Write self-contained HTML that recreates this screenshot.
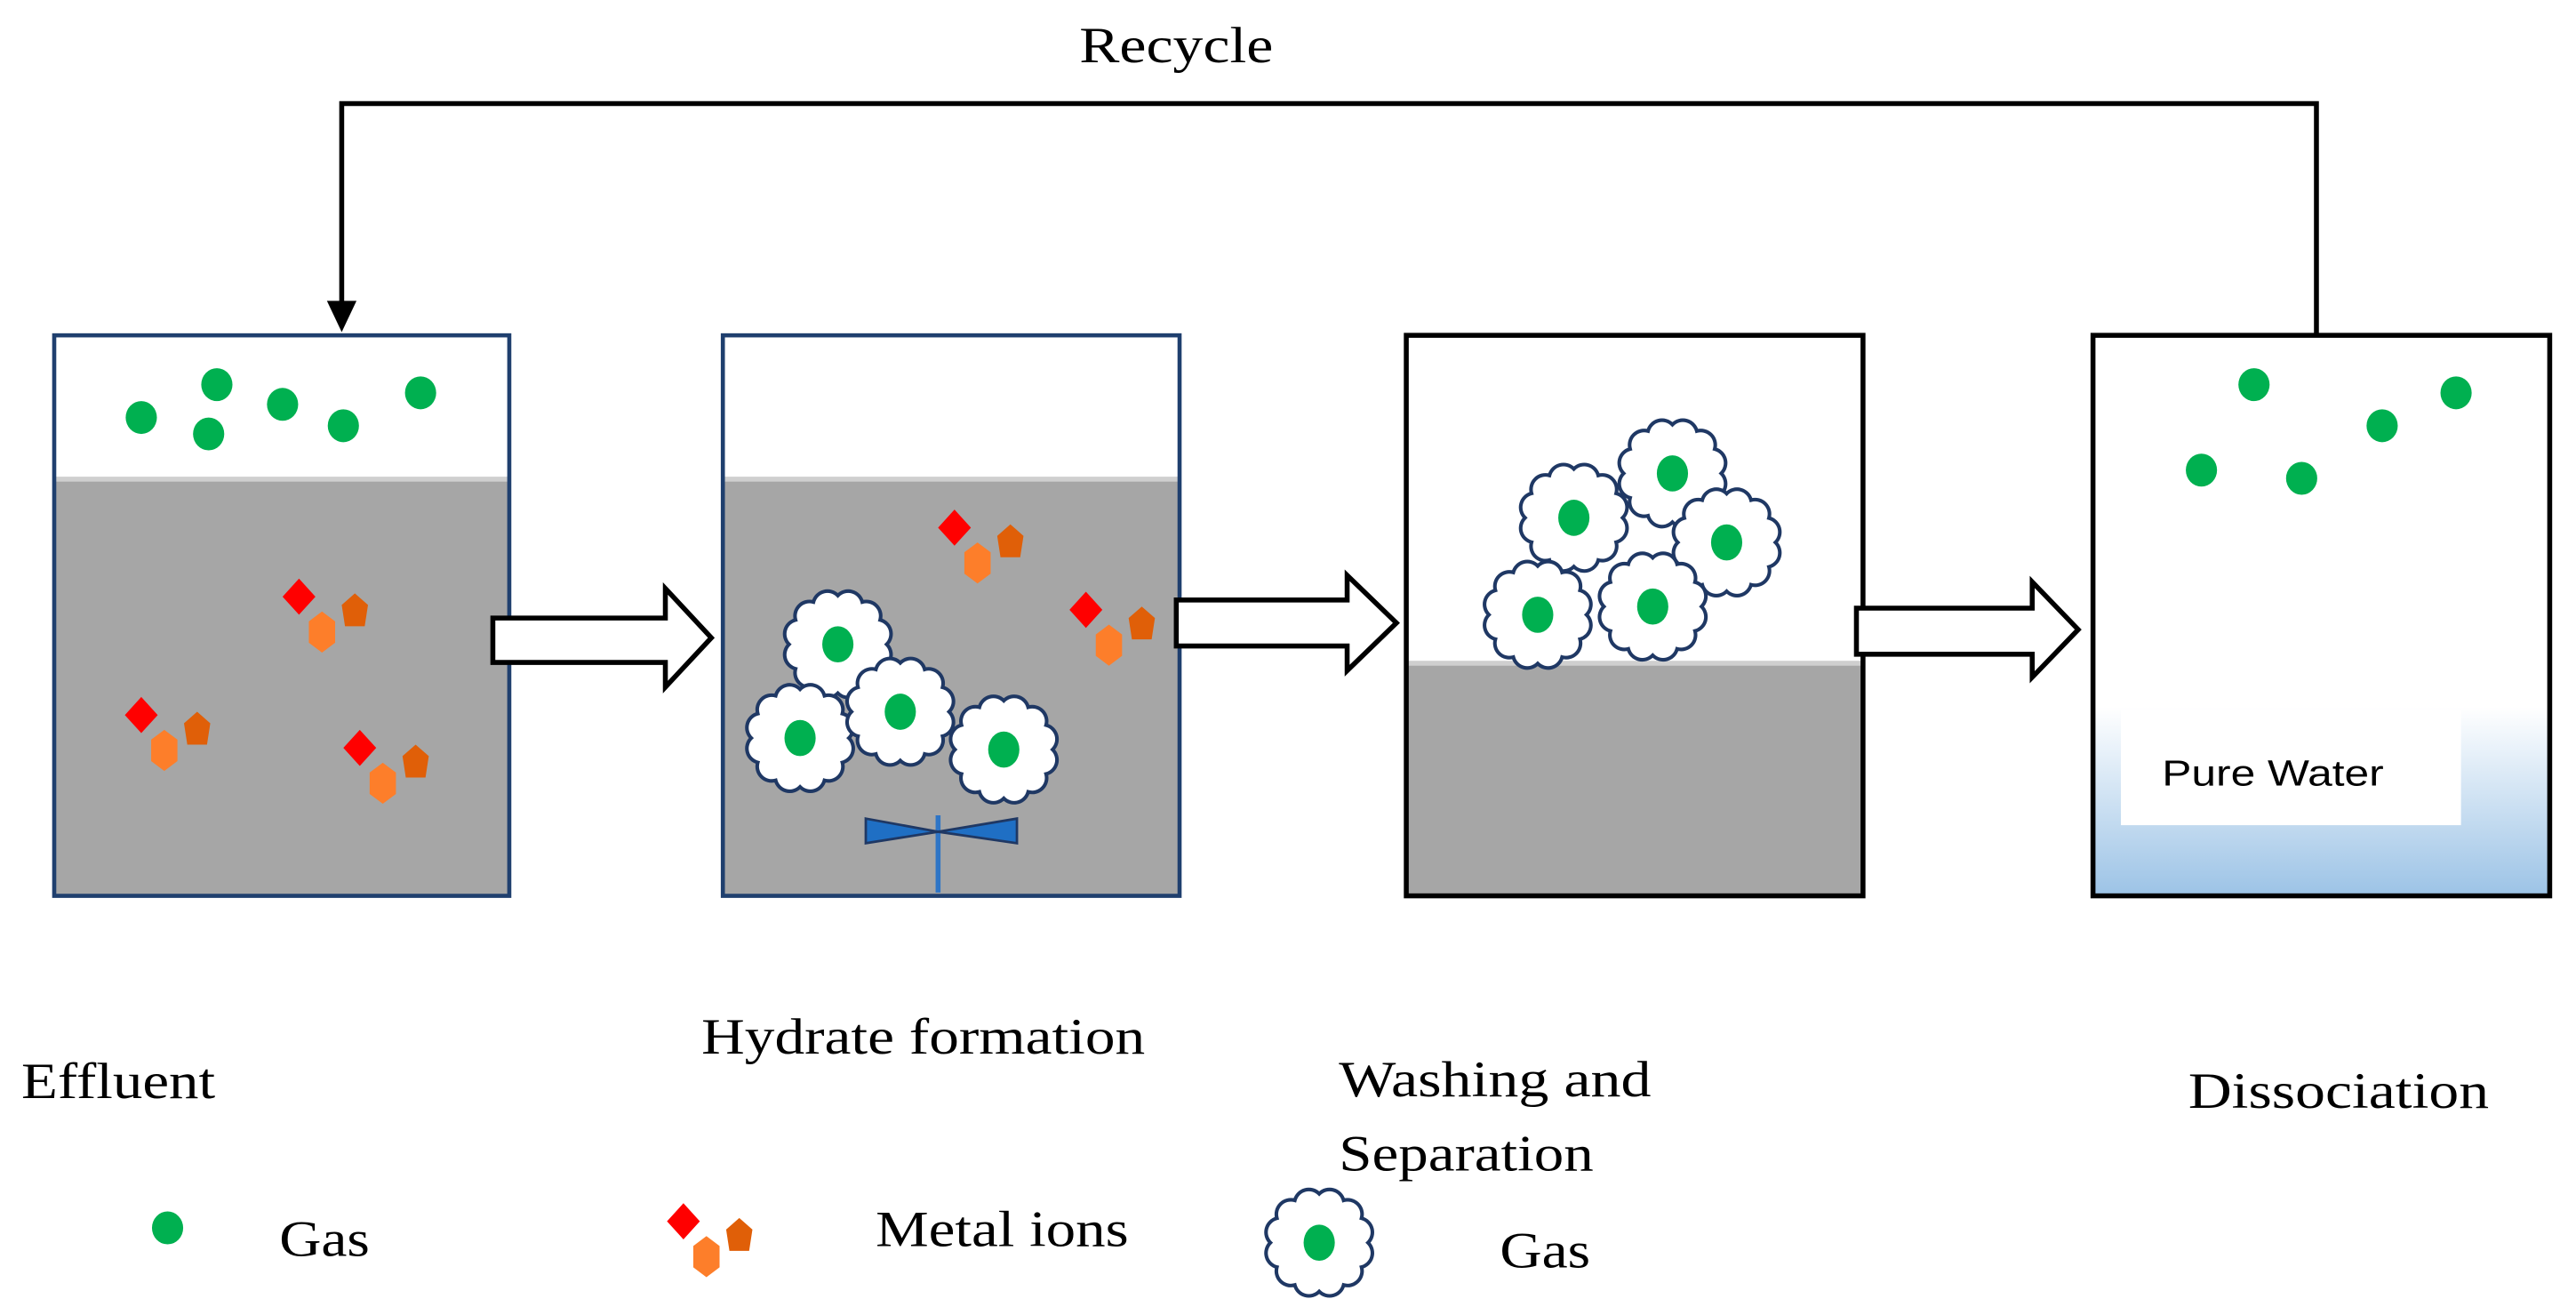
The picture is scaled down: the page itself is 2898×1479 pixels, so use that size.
<!DOCTYPE html>
<html><head><meta charset="utf-8"><style>
html,body{margin:0;padding:0;background:#fff;}
svg{display:block}
</style></head><body>
<svg width="2898" height="1479" viewBox="0 0 1568 800" preserveAspectRatio="none" xmlns="http://www.w3.org/2000/svg">
<defs>
<linearGradient id="pw" x1="0" y1="0" x2="0" y2="1">
<stop offset="0" stop-color="#ffffff"/><stop offset="1" stop-color="#9cc3e6"/>
</linearGradient>
<g id="cloud">
<g transform="scale(1.1)">
<path d="M27,0 A8,8 0 0 1 23.4,13.5 A8,8 0 0 1 13.5,23.4 A8,8 0 0 1 0,27 A8,8 0 0 1 -13.5,23.4 A8,8 0 0 1 -23.4,13.5 A8,8 0 0 1 -27,0 A8,8 0 0 1 -23.4,-13.5 A8,8 0 0 1 -13.5,-23.4 A8,8 0 0 1 0,-27 A8,8 0 0 1 13.5,-23.4 A8,8 0 0 1 23.4,-13.5 A8,8 0 0 1 27,0 Z" fill="#fff" stroke="#1f3864" stroke-width="2"/>
</g>
<ellipse cx="0" cy="0" rx="9.5" ry="11" fill="#00b050"/>
</g>
<g id="ion">
<polygon points="0,-11 10,0 0,11 -10,0" fill="#ff0000"/>
<polygon points="14,9 22,15 22,28 14,34 6,28 6,15" fill="#fd7e2a"/>
<polygon points="34,-2 42,5 40,18 28,18 26,5" fill="#e05f08"/>
</g>
<ellipse id="dot" cx="0" cy="0" rx="9.5" ry="10" fill="#00b050"/>
</defs>

<polyline points="208,190 208,63 1410,63 1410,204" fill="none" stroke="#000" stroke-width="3"/>
<polygon points="199,183 217,183 208,202" fill="#000"/>

<rect x="33" y="204" width="277" height="341" fill="#fff"/>
<rect x="33" y="292" width="277" height="253" fill="#a6a6a6"/>
<rect x="33" y="290" width="277" height="3" fill="#cfcfcf"/>
<rect x="33" y="204" width="277" height="341" fill="none" stroke="#1f3f6e" stroke-width="2.5"/>
<use href="#dot" x="86" y="254"/><use href="#dot" x="132" y="234"/><use href="#dot" x="127" y="264"/>
<use href="#dot" x="172" y="246"/><use href="#dot" x="209" y="259"/><use href="#dot" x="256" y="239"/>
<use href="#ion" x="182" y="363"/><use href="#ion" x="86" y="435"/><use href="#ion" x="219" y="455"/>

<rect x="440" y="204" width="278" height="341" fill="#fff"/>
<rect x="440" y="292" width="278" height="253" fill="#a6a6a6"/>
<rect x="440" y="290" width="278" height="3" fill="#cfcfcf"/>
<use href="#ion" x="581" y="321"/><use href="#ion" x="661" y="371"/>
<use href="#cloud" x="510" y="392"/><use href="#cloud" x="487" y="449"/>
<use href="#cloud" x="548" y="433"/><use href="#cloud" x="611" y="456"/>
<line x1="571" y1="496" x2="571" y2="543" stroke="#2e75c6" stroke-width="3"/>
<polygon points="527,498 571,506 527,513" fill="#1f6fc4" stroke="#1f3864" stroke-width="1.5"/>
<polygon points="619,498 571,506 619,513" fill="#1f6fc4" stroke="#1f3864" stroke-width="1.5"/>
<rect x="440" y="204" width="278" height="341" fill="none" stroke="#1f3f6e" stroke-width="2.5"/>

<rect x="856" y="204" width="278" height="341" fill="#fff"/>
<rect x="856" y="404" width="278" height="141" fill="#a6a6a6"/>
<rect x="856" y="402" width="278" height="3" fill="#cfcfcf"/>
<use href="#cloud" x="958" y="315"/><use href="#cloud" x="1018" y="288"/>
<use href="#cloud" x="1051" y="330"/><use href="#cloud" x="936" y="374"/><use href="#cloud" x="1006" y="369"/>
<rect x="856" y="204" width="278" height="341" fill="none" stroke="#000" stroke-width="3"/>

<rect x="1274" y="204" width="278" height="341" fill="#fff"/>
<rect x="1274" y="430" width="278" height="115" fill="url(#pw)"/>
<rect x="1291" y="432" width="207" height="70" fill="#fff"/>
<text x="1316" y="478" font-family="Liberation Sans, sans-serif" font-size="22" textLength="135" lengthAdjust="spacingAndGlyphs">Pure Water</text>
<use href="#dot" x="1372" y="234"/><use href="#dot" x="1450" y="259"/><use href="#dot" x="1495" y="239"/>
<use href="#dot" x="1340" y="286"/><use href="#dot" x="1401" y="291"/>
<rect x="1274" y="204" width="278" height="341" fill="none" stroke="#000" stroke-width="3"/>

<polygon points="300,376 405,376 405,358 433,388 405,418 405,403 300,403" fill="#fff" stroke="#000" stroke-width="3"/>
<polygon points="716,365 820,365 820,350 850,379 820,408 820,393 716,393" fill="#fff" stroke="#000" stroke-width="3"/>
<polygon points="1130,370 1237,370 1237,354 1265,383 1237,412 1237,398 1130,398" fill="#fff" stroke="#000" stroke-width="3"/>

<g font-family="Liberation Serif, serif" font-size="31" fill="#000" lengthAdjust="spacingAndGlyphs">
<text x="657" y="38" textLength="118" lengthAdjust="spacingAndGlyphs">Recycle</text>
<text x="13" y="668" textLength="118" lengthAdjust="spacingAndGlyphs">Effluent</text>
<text x="427" y="641" textLength="270" lengthAdjust="spacingAndGlyphs">Hydrate formation</text>
<text x="815" y="667" textLength="190" lengthAdjust="spacingAndGlyphs">Washing and</text>
<text x="815" y="712" textLength="155" lengthAdjust="spacingAndGlyphs">Separation</text>
<text x="1332" y="674" textLength="183" lengthAdjust="spacingAndGlyphs">Dissociation</text>
<text x="170" y="764" textLength="55" lengthAdjust="spacingAndGlyphs">Gas</text>
<text x="533" y="758" textLength="154" lengthAdjust="spacingAndGlyphs">Metal ions</text>
<text x="913" y="771" textLength="55" lengthAdjust="spacingAndGlyphs">Gas</text>
</g>
<use href="#dot" x="102" y="747"/>
<use href="#ion" x="416" y="743"/>
<use href="#cloud" x="803" y="756"/>
</svg>
</body></html>
